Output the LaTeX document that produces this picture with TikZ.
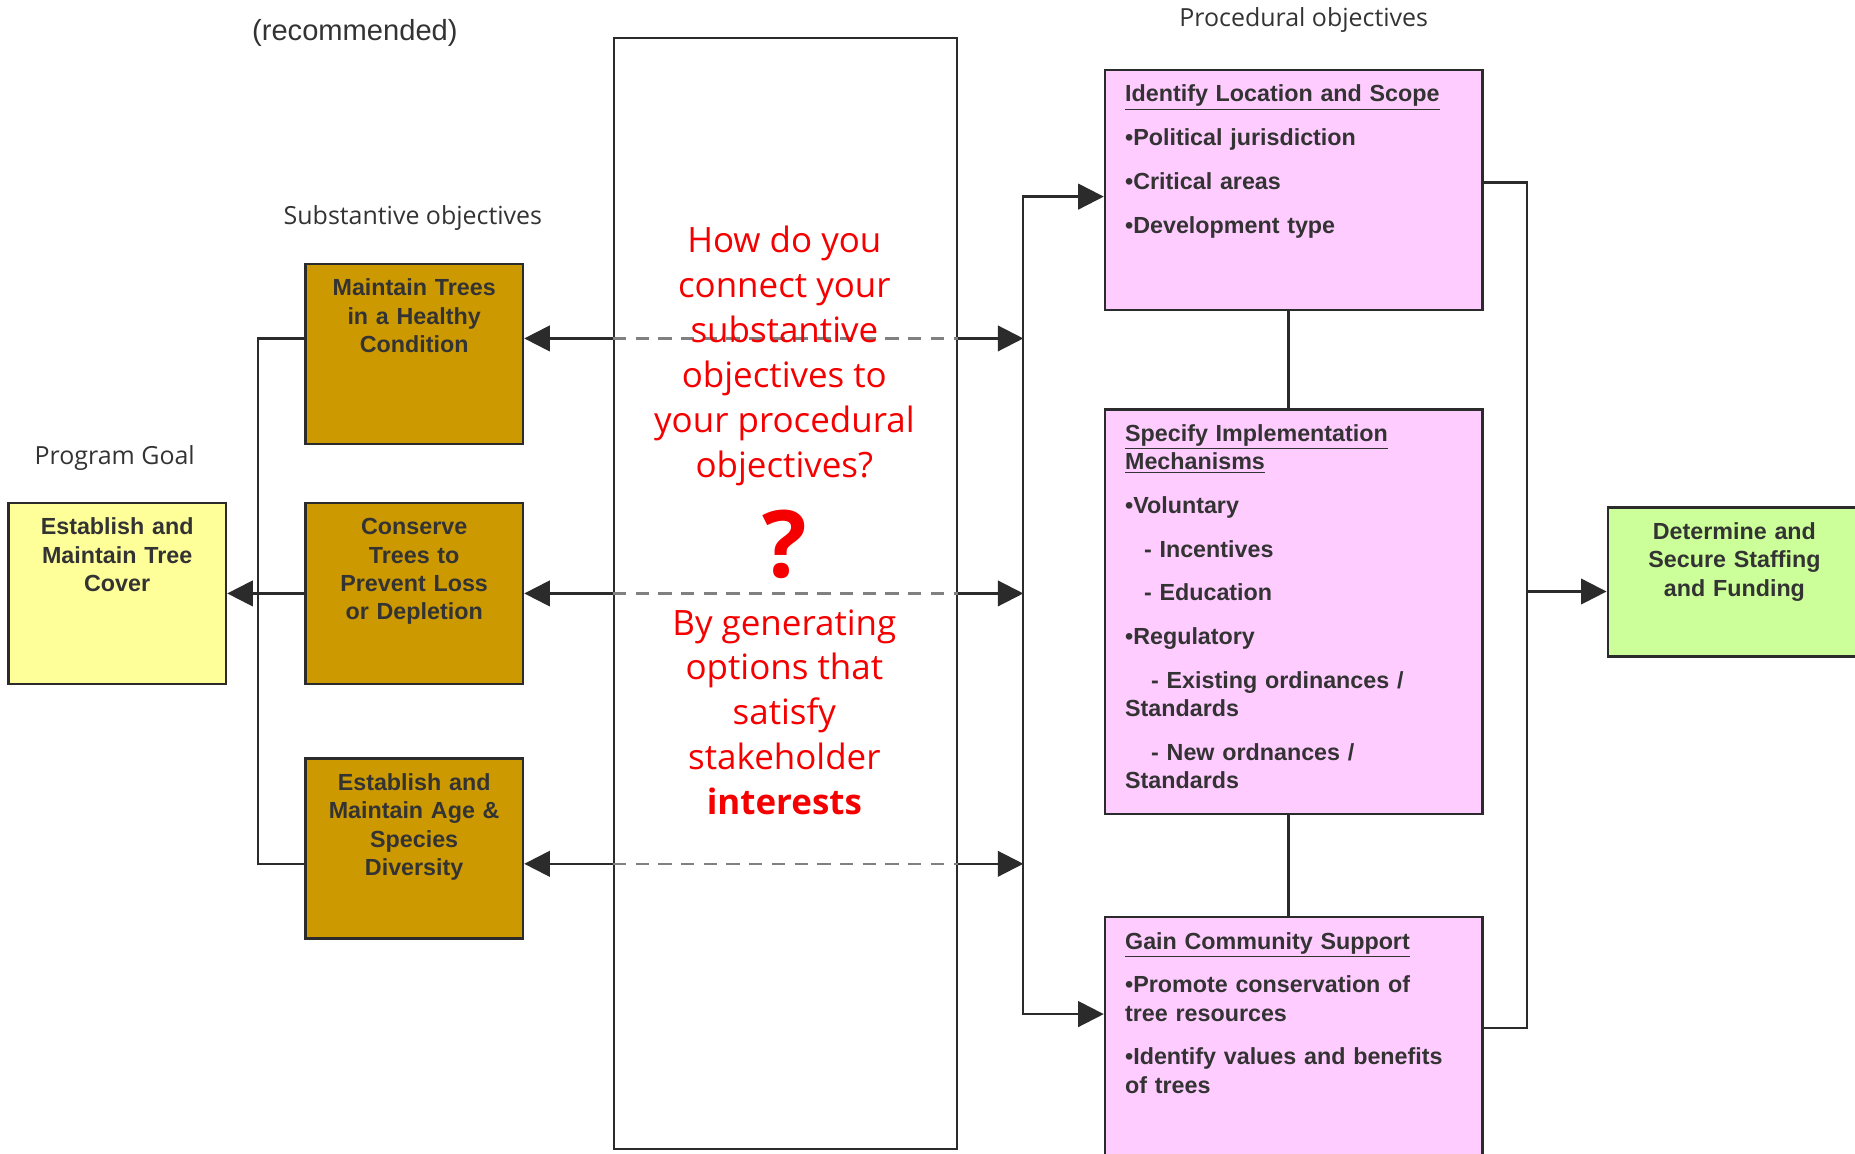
\documentclass[tikz,border=0pt]{standalone}
\usepackage{fontspec}
\setmainfont{Liberation Sans}
\newfontfamily\handfont{Open Sans}
\usetikzlibrary{arrows.meta,positioning,calc}

\definecolor{boxtext}{HTML}{333333}
\definecolor{linegray}{HTML}{2B2B2B}
\definecolor{dashgray}{HTML}{808080}
\definecolor{goalyellow}{HTML}{FFFF99}
\definecolor{subbrown}{HTML}{CC9900}
\definecolor{procpink}{HTML}{FFCCFF}
\definecolor{fundgreen}{HTML}{CCFF99}
\definecolor{askred}{HTML}{F50000}

\tikzset{
  box/.style={rectangle, draw=linegray, line width=1.5pt, inner xsep=0pt, inner ysep=0pt,
    text height=0.675cm, text=boxtext, font=\fontsize{14}{17}\selectfont\bfseries},
  subbox/.style={box, fill=subbrown, text width=4.6cm, align=center, text depth=3.125cm},
  procbox/.style={box, fill=procpink, inner xsep=0.425cm, text width=7.125cm, align=left},
  note/.style={font=\handfont\fontsize{15}{18}\selectfont, text=boxtext},
  askline/.style={font=\handfont\fontsize{21}{27}\selectfont, text=askred, align=center},
  dashline/.style={dashgray, dash pattern=on 0.28cm off 0.2cm}
}

\begin{document}
\begin{tikzpicture}[x=0.025cm, y=-0.025cm, line width=1.4pt, draw=linegray,
    >={Triangle[length=0.54cm,width=0.54cm]}]
  \useasboundingbox (0,0) rectangle (1568,975);

  % substantive objectives and program goal
  \node(maint) [subbox, anchor=north west] at (257,222) {Maintain Trees\\in a Healthy\\Condition};
  \node(cons) [subbox, text depth=3.15cm, below=1.197cm of maint] {Conserve\\Trees to\\Prevent Loss\\or Depletion};
  \node(div) [subbox, below=1.522cm of cons] {Establish and\\Maintain Age \&\\Species\\Diversity};
  \node(goal) [box, fill=goalyellow, text width=4.6cm, align=center, text depth=3.15cm, left=1.622cm of cons] {Establish and\\Maintain Tree\\Cover};

  % question box
  \node(ask) [rectangle, draw=linegray, line width=1.5pt, fill=white, inner sep=0pt,
    minimum width=7.25cm, minimum height=23.475cm, anchor=north west] at (518,31) {};

  % procedural objectives
  \node(loc) [procbox, text depth=4.4cm, anchor=north west] at (933,58)
    {\underline{Identify Location and Scope}\\[9.3pt]
     •Political jurisdiction\\[9.3pt]
     •Critical areas\\[9.3pt]
     •Development type};
  \node(impl) [procbox, text depth=7.875cm, below=2.047cm of loc]
    {\underline{Specify Implementation}\\
     \underline{Mechanisms}\\[9.3pt]
     •Voluntary\\[9.3pt]
     \hspace*{0.4cm}- Incentives\\[9.3pt]
     \hspace*{0.4cm}- Education\\[9.3pt]
     •Regulatory\\[9.3pt]
     \hspace*{0.55cm}- Existing ordinances /\\
     Standards\\[9.3pt]
     \hspace*{0.55cm}- New ordnances /\\
     Standards};
  \node(gain) [procbox, text depth=5.325cm, below=2.122cm of impl]
    {\underline{Gain Community Support}\\[9.3pt]
     •Promote conservation of\\
     tree resources\\[9.3pt]
     •Identify values and benefits\\
     of trees};
  \node(fund) [box, fill=fundgreen, text width=5.35cm, align=center, text depth=2.475cm, anchor=north west] at (1358,428)
    {Determine and\\Secure Staffing\\and Funding};

  % headings
  \node(reclbl) [font=\fontsize{17.5}{20}\selectfont, text=boxtext] at (300,28) {(recommended)};
  \node(sublbl) [note] at (349,184) {Substantive objectives};
  \node(goallbl) [note] at (97,387) {Program Goal};
  \node(proclbl) [note] at (1102,17) {Procedural objectives};

  % bus points
  \coordinate (lbus) at (218,500);
  \coordinate (rbus) at (865,500);
  \coordinate (rbrk) at (1291,500);
  \coordinate (m1) at ([yshift=0.325cm]maint.east);
  \coordinate (m1w) at ([yshift=0.325cm]maint.west);
  \coordinate (d3) at ([yshift=-0.325cm]div.east);
  \coordinate (d3w) at ([yshift=-0.325cm]div.west);
  \coordinate (a1) at ([yshift=-0.14cm]loc.west);
  \coordinate (a2) at ([yshift=0.16cm]loc.east);
  \coordinate (c1) at ([yshift=-2.075cm]gain.north west);
  \coordinate (c2) at ([yshift=-2.375cm]gain.north east);

  % left side
  \draw (m1w) -| (lbus) |- (d3w);
  \draw[->] (cons.west) -- (goal.east);

  % links through the question box
  \draw[<-] (m1) -- (m1 -| ask.west);
  \draw[dashline] (m1 -| ask.west) -- (m1 -| ask.east);
  \draw[->] (m1 -| ask.east) -- (m1 -| rbus);
  \draw[<-] (cons.east) -- (cons.east -| ask.west);
  \draw[dashline] (cons.east -| ask.west) -- (cons.east -| ask.east);
  \draw[->] (cons.east -| ask.east) -- (cons.east -| rbus);
  \draw[<-] (d3) -- (d3 -| ask.west);
  \draw[dashline] (d3 -| ask.west) -- (d3 -| ask.east);
  \draw[->] (d3 -| ask.east) -- (d3 -| rbus);

  % right side
  \draw[->] (rbus) |- (a1);
  \draw[->] (rbus) |- (c1);
  \draw ([xshift=-0.11cm]loc.south) -- ([xshift=-0.11cm]impl.north);
  \draw ([xshift=-0.11cm]impl.south) -- ([xshift=-0.11cm]gain.north);
  \draw (a2) -| (rbrk) |- (c2);
  \draw[->] (rbrk) -- (rbrk -| fund.west);

  % question text
  \node(askq) [askline] at (663,301) {How do you\\connect your\\substantive\\objectives to\\your procedural\\objectives?};
  \node(askmark) [font=\handfont\bfseries\fontsize{56}{60}\selectfont, text=askred] at (663,460) {?};
  \node(askans) [askline] at (663,602) {By generating\\options that\\satisfy\\stakeholder\\\textbf{interests}};
\end{tikzpicture}
\end{document}
